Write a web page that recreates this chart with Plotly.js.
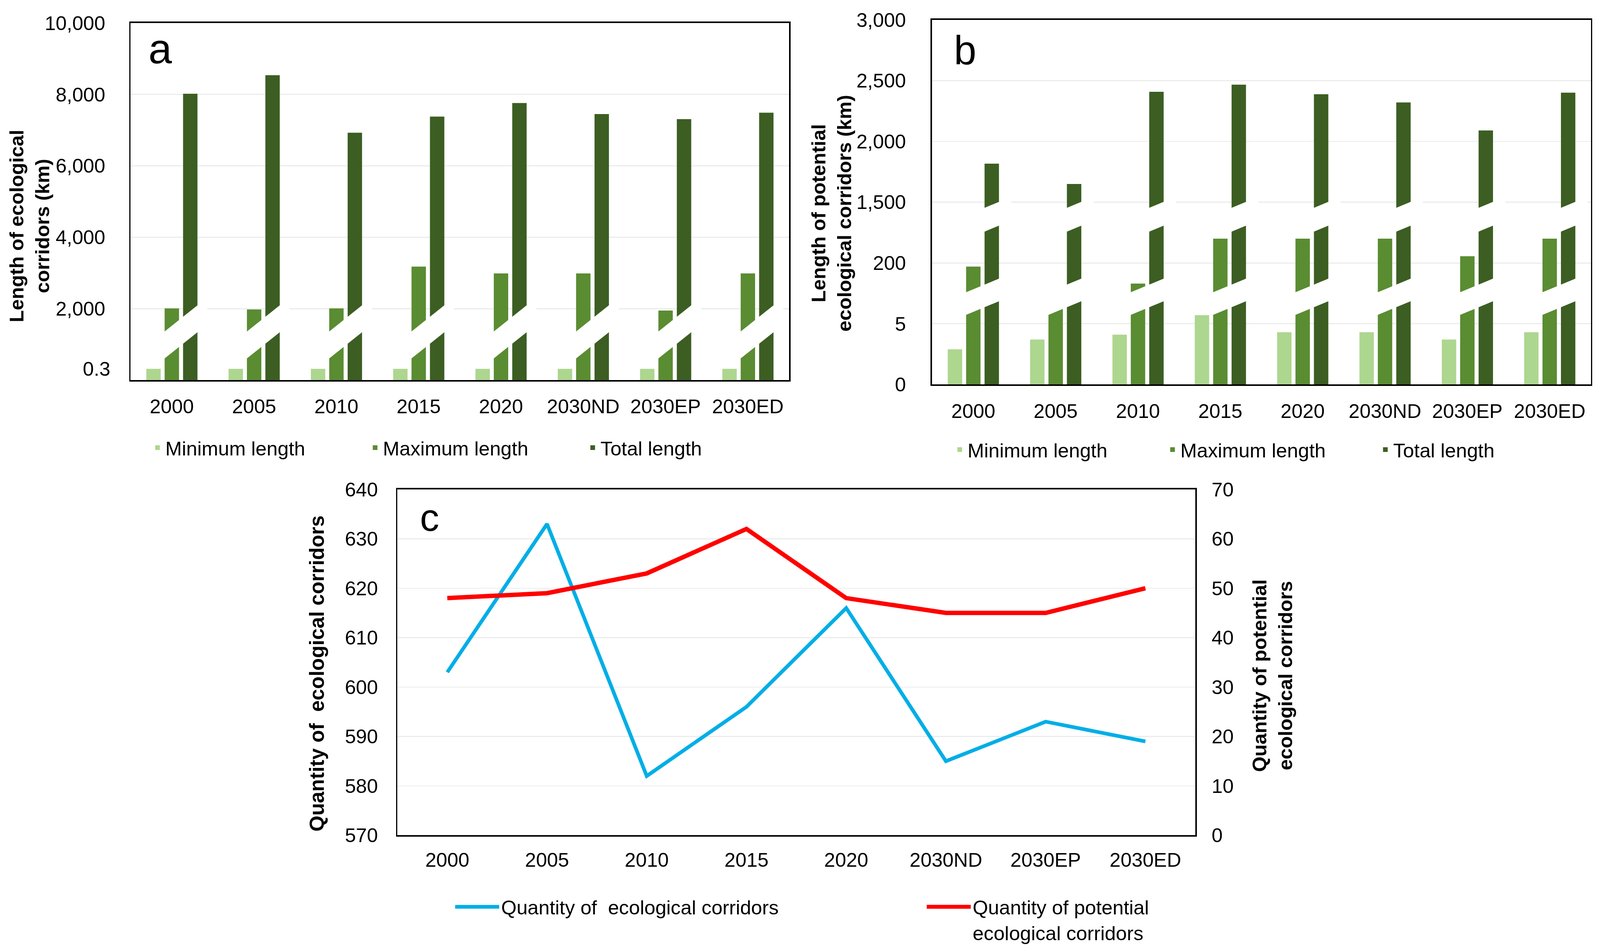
<!DOCTYPE html>
<html>
<head>
<meta charset="utf-8">
<script src="https://cdn.plot.ly/plotly-3.0.1.min.js"></script>
<style>html,body{margin:0;padding:0;background:#fff;overflow:hidden;}#chart{overflow:hidden;}</style>
</head>
<body>
<div id="chart"></div>
<script>
// ---------- data ----------
const categories = ['2000', '2005', '2010', '2015', '2020', '2030ND', '2030EP', '2030ED'];

// panel a: length of ecological corridors (km)
const minLenA = [0.3, 0.3, 0.3, 0.3, 0.3, 0.3, 0.3, 0.3];
const maxLenA = [2010, 1980, 2010, 3180, 2990, 2990, 1950, 2990];
const totalLenA = [8020, 8540, 6930, 7380, 7760, 7450, 7310, 7490];
const tickValsA = [2000, 4000, 6000, 8000, 10000];
const tickTextA = ['2,000', '4,000', '6,000', '8,000', '10,000'];

// panel b: length of potential ecological corridors (km)
const minLenB = [2.9, 3.7, 4.1, 5.7, 4.3, 4.3, 3.7, 4.3];
const maxLenB = [194, 151, 166, 240, 240, 240, 211, 240];
const totalLenB = [1817, 1650, 2408, 2467, 2388, 2321, 2090, 2401];
const tickValsB = [0, 500, 1000, 1500, 2000, 2500, 3000];
const tickTextB = ['0', '5', '200', '1,500', '2,000', '2,500', '3,000'];

// panel c: quantities
const qtyCorridors = [603, 633, 582, 596, 616, 585, 593, 589];
const qtyPotential = [48, 49, 53, 62, 48, 45, 45, 50];

// ---------- page size (design frame 4360 x 2427) ----------
const REF_W = 4360, REF_H = 2427;
const W = window.innerWidth || REF_W, H = window.innerHeight || REF_H;
const k = W / REF_W;                 // pixel scale of the design frame
const s = v => v * k;
const si = v => Math.max(0, Math.round(v * k));   // integer-valued attributes
const px = v => v / REF_W, py = v => 1 - v / REF_H;
const chartDiv = document.getElementById('chart');
chartDiv.style.width = W + 'px';
chartDiv.style.height = H + 'px';

// ---------- style ----------
const FONT = 'Liberation Sans, Arial, sans-serif';
const C_MIN = '#add68f', C_MAX = '#5a8c32', C_TOT = '#3c5e22';
const BW = 0.175, OFF_MIN = -0.31, OFF_MAX = -0.087, OFF_TOT = 0.137;

function bar(name, y, xa, ya, color, off, leg) {
  return {type: 'bar', name: name, x: categories, y: y, xaxis: xa, yaxis: ya,
    width: BW, offset: off, marker: {color: color, line: {width: 0}}, legend: leg, hoverinfo: 'x+y'};
}

const traces = [
  bar('Minimum length', minLenA, 'x', 'y2', C_MIN, OFF_MIN, 'legend'),
  bar('Maximum length', maxLenA, 'x', 'y', C_MAX, OFF_MAX, 'legend'),
  bar('Total length', totalLenA, 'x', 'y', C_TOT, OFF_TOT, 'legend'),
  bar('Minimum length', minLenB, 'x2', 'y5', C_MIN, OFF_MIN, 'legend2'),
  bar('Maximum length', maxLenB, 'x2', 'y4', C_MAX, OFF_MAX, 'legend2'),
  bar('Total length', totalLenB, 'x2', 'y3', C_TOT, OFF_TOT, 'legend2'),
  {type: 'scatter', mode: 'lines', name: 'Quantity of  ecological corridors', x: categories, y: qtyCorridors,
    xaxis: 'x3', yaxis: 'y6', line: {color: '#00aee6', width: s(10)}, legend: 'legend3'},
  {type: 'scatter', mode: 'lines', name: 'Quantity of potential<br>ecological corridors', x: categories, y: qtyPotential,
    xaxis: 'x3', yaxis: 'y7', line: {color: '#ff0000', width: s(12)}, legend: 'legend3'}
];

// white slanted break bands (axis-break decoration)
const shapes = [];
function band(xref, yref, i, xs, xe, xRef, yLowRef, thick, slope) {
  const x0 = i + xs, x1 = i + xe;
  const l0 = yLowRef + (x0 - (i + xRef)) * slope, l1 = yLowRef + (x1 - (i + xRef)) * slope;
  shapes.push({type: 'path', xref: xref, yref: yref, layer: 'above', fillcolor: '#ffffff', line: {width: 0},
    path: `M${x0},${l0} L${x1},${l1} L${x1},${l1 + thick} L${x0},${l0 + thick} Z`});
}
categories.forEach((c, i) => {
  band('x', 'y', i, -0.11, 0.43, OFF_MAX, 611, 754, 1836);
  band('x2', 'y3', i, -0.10, 0.46, OFF_TOT, 636, 186, 280);
  band('x2', 'y3', i, 0.10, 0.46, OFF_TOT, 1258, 196, 280);
});

const tickFont = {family: FONT, size: s(54), color: '#000'};
function xax(dom, anchor, so) {
  return {domain: dom, anchor: anchor, type: 'category', range: [-0.5, 7.5], showline: true, mirror: true,
    linecolor: '#000', linewidth: s(4), ticks: '', showgrid: false, tickfont: tickFont, ticklabelstandoff: si(so), fixedrange: true};
}
function yax(dom, anchor, range, extra) {
  return Object.assign({domain: dom, anchor: anchor, range: range, showgrid: true, gridcolor: '#ececec', gridwidth: s(3),
    zeroline: false, showline: true, mirror: true, linecolor: '#000', linewidth: s(4), ticks: '',
    tickfont: tickFont, fixedrange: true}, extra);
}
const ann = (text, x, y, size, angle) => ({text: text, x: px(x), y: py(y), xref: 'paper', yref: 'paper',
  xanchor: 'center', yanchor: 'middle', textangle: angle, showarrow: false, font: {family: FONT, size: s(size), color: '#000'}});
const legendFont = {family: FONT, size: s(54), color: '#000'};

const layout = {
  width: W, height: H, margin: {l: 0, r: 0, t: 0, b: 0}, paper_bgcolor: '#fff', plot_bgcolor: 'rgba(0,0,0,0)',
  font: {family: FONT, color: '#000'}, barmode: 'group',
  xaxis: xax([px(356), px(2150)], 'y', 21),
  yaxis: yax([py(975), py(59)], 'x', [0, 10000], {tickvals: tickValsA, ticktext: tickTextA, ticklabelstandoff: si(54)}),
  yaxis2: {overlaying: 'y', anchor: 'x', side: 'left', range: [0, 9.375], tickvals: [0.3], ticktext: ['0.3'],
    showgrid: false, zeroline: false, showline: false, ticks: '', tickfont: tickFont, ticklabelstandoff: si(54), fixedrange: true},
  xaxis2: xax([px(2540), px(4335)], 'y3', 22),
  yaxis3: yax([py(986), py(51)], 'x2', [0, 3000], {tickvals: tickValsB, ticktext: tickTextB, ticklabelstandoff: si(56)}),
  yaxis4: {overlaying: 'y3', anchor: 'x2', range: [0, 600], visible: false, fixedrange: true},
  yaxis5: {overlaying: 'y3', anchor: 'x2', range: [0, 30], visible: false, fixedrange: true},
  xaxis3: xax([px(1083), px(3257)], 'y6', 17),
  yaxis6: yax([py(2142), py(1255)], 'x3', [570, 640], {dtick: 10, tick0: 570, ticklabelstandoff: si(38)}),
  yaxis7: {overlaying: 'y6', anchor: 'x3', side: 'right', range: [0, 70], dtick: 10, tick0: 0,
    showgrid: false, zeroline: false, showline: false, ticks: '', tickfont: tickFont, ticklabelstandoff: si(44), fixedrange: true},
  legend: {x: px(408), xanchor: 'left', y: py(1148), yanchor: 'middle', orientation: 'h', entrywidth: s(545),
    entrywidthmode: 'pixels', font: legendFont, bgcolor: 'rgba(0,0,0,0)', traceorder: 'normal'},
  legend2: {x: px(2594), xanchor: 'left', y: py(1153), yanchor: 'middle', orientation: 'h', entrywidth: s(532),
    entrywidthmode: 'pixels', font: legendFont, bgcolor: 'rgba(0,0,0,0)', traceorder: 'normal'},
  legend3: {x: px(1235), xanchor: 'left', y: py(2286), yanchor: 'top', orientation: 'h', entrywidth: s(1149),
    entrywidthmode: 'pixels', itemwidth: Math.max(30, s(120)), valign: 'top', font: legendFont,
    bgcolor: 'rgba(0,0,0,0)', traceorder: 'normal'},
  shapes: shapes,
  annotations: [
    ann('<b>Length of ecological<br>corridors (km)</b>', 80, 580, 54, -90),
    ann('<b>Length of potential<br>ecological corridors (km)</b>', 2265, 547, 54, -90),
    ann('<b>Quantity of  ecological corridors</b>', 862, 1727, 56, -90),
    ann('<b>Quantity of potential<br>ecological corridors</b>', 3467, 1733, 54, -90),
    ann('a', 437, 125, 115, 0),
    ann('b', 2630, 128, 110, 0),
    ann('c', 1170, 1327, 105, 0)
  ]
};

Plotly.newPlot(chartDiv, traces, layout, {staticPlot: true, displayModeBar: false});
</script>
</body>
</html>
